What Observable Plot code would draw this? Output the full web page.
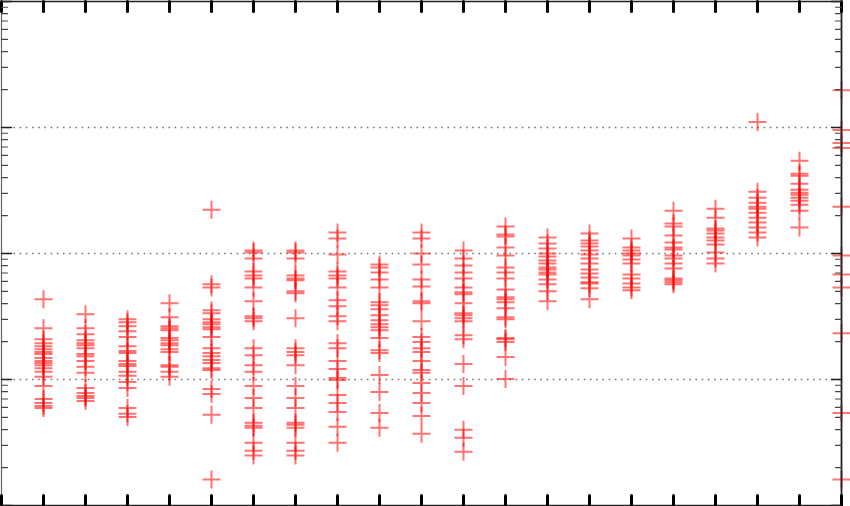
<!DOCTYPE html>
<html>
<head>
<meta charset="utf-8">
<script src="https://cdn.jsdelivr.net/npm/d3@7"></script>
<script src="https://cdn.jsdelivr.net/npm/@observablehq/plot@0.6"></script>
<style>
  html, body { margin: 0; padding: 0; background: #fff; }
  #chart svg { display: block; }
</style>
</head>
<body>
<div id="chart"></div>
<script>
// Category positions (x) 1..20 and their measured values (log y)
const categories = d3.range(1, 21);
const xTicks = d3.range(0, 21);
const gridValues = [0.1, 1, 10];
const yDomain = [0.01, 100];

const col1 = [0.433, 0.255, 0.209, 0.194, 0.184, 0.174, 0.165, 0.159, 0.148, 0.140, 0.135, 0.130, 0.123, 0.115, 0.105, 0.0888, 0.0701, 0.0652, 0.0617, 0.0595];
const col2 = [0.330, 0.255, 0.229, 0.205, 0.194, 0.187, 0.177, 0.159, 0.153, 0.140, 0.126, 0.113, 0.0857, 0.0782, 0.0741, 0.0714, 0.0676];
const col3 = [0.301, 0.285, 0.265, 0.242, 0.217, 0.184, 0.168, 0.162, 0.140, 0.133, 0.128, 0.115, 0.107, 0.0955, 0.0857, 0.0595, 0.0534, 0.0505];
const col4 = [0.402, 0.312, 0.265, 0.255, 0.246, 0.213, 0.205, 0.194, 0.187, 0.174, 0.165, 0.130, 0.126, 0.115, 0.105];
const col5 = [2.227, 0.569, 0.538, 0.354, 0.335, 0.301, 0.285, 0.275, 0.260, 0.251, 0.217, 0.177, 0.162, 0.153, 0.143, 0.135, 0.123, 0.119, 0.0841, 0.0768, 0.0524, 0.0161];
const col6 = [1.056, 1.018, 0.913, 0.721, 0.670, 0.634, 0.538, 0.417, 0.318, 0.306, 0.290, 0.177, 0.156, 0.130, 0.115, 0.0888, 0.0714, 0.0595, 0.0453, 0.0429, 0.0414, 0.0315, 0.0272, 0.0249];
const col7 = [1.056, 1.018, 0.913, 0.670, 0.634, 0.612, 0.501, 0.483, 0.306, 0.177, 0.165, 0.156, 0.130, 0.0888, 0.0714, 0.0595, 0.0453, 0.0437, 0.0414, 0.0315, 0.0272, 0.0249];
const col8 = [1.466, 1.314, 0.982, 0.721, 0.670, 0.634, 0.538, 0.425, 0.381, 0.318, 0.290, 0.194, 0.177, 0.140, 0.121, 0.103, 0.0991, 0.0754, 0.0652, 0.0553, 0.0421, 0.0315];
const col9 = [0.818, 0.775, 0.708, 0.623, 0.538, 0.410, 0.388, 0.361, 0.324, 0.295, 0.275, 0.260, 0.246, 0.213, 0.171, 0.162, 0.1085, 0.0796, 0.0543, 0.0414];
const col10 = [1.466, 1.314, 1.0, 0.818, 0.623, 0.548, 0.417, 0.402, 0.290, 0.217, 0.198, 0.177, 0.165, 0.140, 0.119, 0.113, 0.0938, 0.0782, 0.0652, 0.0514, 0.0371];
const col11 = [1.056, 0.913, 0.804, 0.708, 0.634, 0.538, 0.492, 0.474, 0.402, 0.335, 0.324, 0.306, 0.290, 0.225, 0.209, 0.133, 0.0888, 0.0399, 0.0345, 0.0267];
const col12 = [1.635, 1.413, 1.363, 1.115, 0.964, 0.775, 0.708, 0.634, 0.519, 0.449, 0.433, 0.410, 0.367, 0.312, 0.301, 0.213, 0.209, 0.198, 0.151, 0.101];
const col13 = [1.338, 1.200, 1.095, 1.0, 0.947, 0.880, 0.834, 0.775, 0.747, 0.708, 0.682, 0.623, 0.569, 0.501, 0.417];
const col14 = [1.439, 1.267, 1.200, 1.136, 1.056, 0.982, 0.913, 0.834, 0.747, 0.695, 0.646, 0.590, 0.579, 0.529, 0.433];
const col15 = [1.314, 1.115, 1.056, 1.0, 0.964, 0.897, 0.834, 0.682, 0.634, 0.579, 0.538, 0.510];
const col16 = [2.187, 1.727, 1.635, 1.388, 1.222, 1.115, 1.075, 0.964, 0.913, 0.834, 0.761, 0.634, 0.612, 0.590, 0.569];
const col17 = [2.268, 1.926, 1.576, 1.520, 1.439, 1.338, 1.267, 1.178, 1.018, 0.913, 0.834];
const col18 = [11.05, 3.09, 2.77, 2.53, 2.35, 2.268, 2.11, 1.926, 1.759, 1.605, 1.466, 1.338];
const col19 = [5.435, 4.29, 4.136, 3.576, 3.205, 3.035, 2.927, 2.77, 2.624, 2.44, 2.187, 1.605];
const col20 = [19.79, 9.55, 7.54, 6.88, 2.35, 0.964, 0.682, 0.538, 0.233, 0.0543, 0.0161];

const columns = [col1, col2, col3, col4, col5, col6, col7, col8, col9, col10,
                 col11, col12, col13, col14, col15, col16, col17, col18, col19, col20];

const points = columns.flatMap((vals, i) => vals.map(v => ({cat: categories[i], value: v})));

// log ticks for the left/right edges
const majorY = [0.01, 0.1, 1, 10, 100];
const minorY = [];
for (const d of [0.01, 0.1, 1, 10]) for (let k = 2; k <= 9; k++) minorY.push(+(k * d).toPrecision(3));

const plusSymbol = {
  draw(context, size) {
    const h = Math.sqrt(size / Math.PI);
    context.moveTo(-h, 0); context.lineTo(h, 0);
    context.moveTo(0, -h); context.lineTo(0, h);
  }
};
const lineShape = {
  draw(context, length) { context.moveTo(0, 0); context.lineTo(0, -length); }
};

const chart = Plot.plot({
  width: 850,
  height: 506,
  marginTop: 1,
  marginBottom: 1,
  marginLeft: 1,
  marginRight: 9,
  style: {background: "#fff"},
  x: {type: "linear", domain: [0, 20], axis: null},
  y: {type: "log", domain: yDomain, axis: null},
  marks: [
    Plot.ruleY(gridValues, {stroke: "#777", strokeWidth: 1.4, strokeDasharray: "1.6,4.6"}),
    Plot.dot(points, {x: "cat", y: "value", symbol: plusSymbol, r: 9, fill: "none",
                      stroke: "#ff0000", strokeOpacity: 0.55, strokeWidth: 2}),
    // frame
    Plot.ruleX([0], {stroke: "#666", strokeWidth: 1.2}),
    Plot.ruleX([20], {stroke: "#222", strokeWidth: 1.8}),
    Plot.ruleY(yDomain, {stroke: "#222", strokeWidth: 1.5}),
    // top / bottom ticks
    Plot.vector(xTicks, {x: d => d, frameAnchor: "bottom", anchor: "start", rotate: 0, length: 10,
                         shape: lineShape, stroke: "#000", strokeWidth: 3}),
    Plot.vector(xTicks, {x: d => d, frameAnchor: "top", anchor: "start", rotate: 180, length: 10,
                         shape: lineShape, stroke: "#000", strokeWidth: 3}),
    // left / right log ticks
    Plot.vector(minorY, {y: d => d, frameAnchor: "left", anchor: "start", rotate: 90, length: 6,
                         shape: lineShape, stroke: "#444", strokeWidth: 1.2}),
    Plot.vector(majorY, {y: d => d, frameAnchor: "left", anchor: "start", rotate: 90, length: 10,
                         shape: lineShape, stroke: "#222", strokeWidth: 1.5}),
    Plot.vector(minorY, {y: d => d, frameAnchor: "right", anchor: "start", rotate: -90, length: 6,
                         shape: lineShape, stroke: "#444", strokeWidth: 1.2}),
    Plot.vector(majorY, {y: d => d, frameAnchor: "right", anchor: "start", rotate: -90, length: 10,
                         shape: lineShape, stroke: "#222", strokeWidth: 1.5})
  ]
});
document.getElementById("chart").append(chart);
</script>
</body>
</html>
